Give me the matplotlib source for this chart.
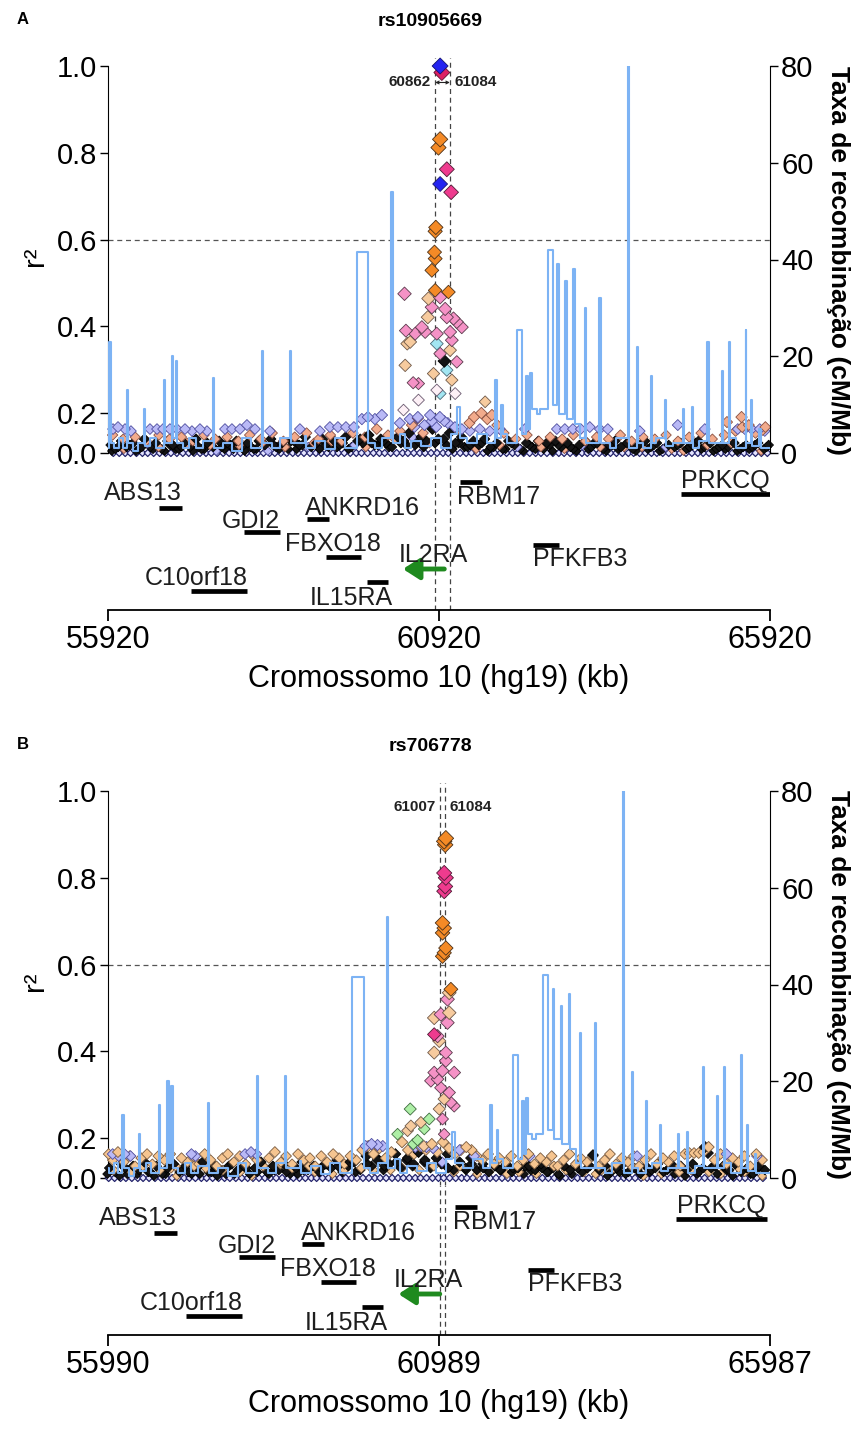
import numpy as np
import matplotlib
matplotlib.use('Agg')
import matplotlib.pyplot as plt
from matplotlib import font_manager

plt.rcParams['font.family'] = ['Liberation Sans', 'DejaVu Sans']
_names = {f.name for f in font_manager.fontManager.ttflist}
NARROW = 'Liberation Sans Narrow' if 'Liberation Sans Narrow' in _names else 'Liberation Sans'

# ---------------- data ----------------
# SNPs with r2 = 0 (same region in both panels)
zero_kb = [56000, 56090, 56180, 56260, 56350, 56440, 56520, 56610, 56700, 56790, 56870, 56960,
           57050, 57140, 57220, 57310, 57400, 57480, 57570, 57660, 57750, 57830, 57920, 58010,
           58100, 58180, 58270, 58360, 58440, 58530, 58620, 58710, 58790, 58880, 58970, 59060,
           59140, 59230, 59320, 59400, 59490, 59580, 59670, 59750, 59840, 59930, 60020, 60100,
           60190, 60280, 60370, 60450, 60540, 60630, 60710, 60800, 60890, 60980, 61060, 61150,
           61240, 61330, 61410, 61500, 61590, 61680, 61760, 61850, 61940, 62030, 62110, 62200,
           62290, 62380, 62460, 62550, 62640, 62730, 62810, 62900, 62990, 63080, 63160, 63250,
           63340, 63430, 63510, 63600, 63690, 63780, 63860, 63950, 64040, 64130, 64210, 64300,
           64390, 64480, 64560, 64650, 64740, 64830, 64910, 65000, 65090, 65180, 65260, 65350,
           65440, 65530, 65610, 65700, 65790, 65880]

# low-LD SNPs shared by both panels (positions), r2 differs per lead SNP
low_kb = [55980, 56075, 56160, 56250, 56345, 56430, 56515, 56600, 56685, 56775, 56860, 56945,
          57030, 57115, 57205, 57290, 57375, 57465, 57555, 57640, 57725, 57815, 57900, 57985,
          58075, 58160, 58245, 58335, 58420, 58505, 58595, 58685, 58770, 58855, 58945, 59030,
          59115, 59205, 59295, 59380, 59465, 59555, 59645, 59730, 59815, 59905, 59995, 60080,
          60165, 60255, 60345, 60430, 60515, 60605, 60690, 60775, 60910, 61035, 61125, 61215,
          61305, 61395, 61480, 61565, 61655, 61745, 61835, 61925, 62015, 62105, 62195, 62285,
          62375, 62460, 62545, 62635, 62725, 62815, 62905, 62995, 63085, 63175, 63265, 63355,
          63445, 63535, 63625, 63715, 63805, 63895, 63985, 64075, 64165, 64255, 64345, 64435,
          64525, 64615, 64705, 64795, 64885, 64975, 65065, 65155, 65245, 65335, 65425, 65515,
          65605, 65695, 65785, 65870]

# recombination rate (cM/Mb), step positions in kb
recomb_kb = [55920, 55930, 55960, 56010, 56080, 56140, 56200, 56225, 56300, 56380, 56460, 56480,
             56560, 56640, 56760, 56780, 56880, 56905, 56940, 56965, 57050, 57150, 57250, 57350,
             57500, 57520, 57650, 57800, 57950, 58080, 58240, 58260, 58400, 58520, 58665, 58685,
             58890, 58910, 59050, 59200, 59350, 59500, 59680, 59850, 59950, 60060, 60200, 60225,
             60330, 60400, 60500, 60650, 60800, 60950, 61100, 61190, 61230, 61350, 61500, 61650,
             61760, 61790, 61860, 61880, 61950, 62100, 62180, 62240, 62270, 62300, 62330, 62400,
             62450, 62560, 62640, 62710, 62730, 62830, 62850, 62950, 62970, 63050, 63120, 63140,
             63340, 63360, 63500, 63600, 63770, 63785, 63905, 63920, 64000, 64115, 64135, 64200,
             64330, 64345, 64450, 64600, 64615, 64735, 64750, 64850, 64975, 64995, 65190, 65205,
             65295, 65310, 65400, 65550, 65565, 65640, 65655, 65760, 65780, 65990]
recomb_rate = [1.0, 23, 2, 1, 3, 1, 13, 2, 0.5, 2, 9, 1.5,
               3, 1, 15, 2, 20, 3, 19, 2, 1, 3, 1, 2.5,
               15.5, 1, 2, 0.5, 3, 1, 21, 2, 1, 3, 21, 2,
               3.5, 1, 2.5, 0.8, 3, 1, 41.5, 2, 1, 3, 54, 2,
               4, 1, 2.5, 1.5, 3, 1, 4, 9.5, 3, 2, 4, 2,
               15, 3, 10, 4, 2, 25.5, 4, 16, 5, 16.5, 9, 8,
               9, 42, 10, 39, 8, 35.5, 7, 38, 6, 3, 30, 2,
               32, 2, 1, 3, 80, 1, 22, 2, 1, 16, 2, 3,
               11, 1.5, 2, 9, 2, 9.5, 1, 2.5, 23, 2, 17, 2,
               23, 3, 1, 25.5, 2, 11, 1.5, 5, 1, 1]

# genes
gene_names = ['ABS13', 'GDI2', 'ANKRD16', 'FBXO18', 'IL2RA', 'C10orf18', 'IL15RA', 'RBM17', 'PFKFB3', 'PRKCQ']
gene_start = [56690, 57974, 58925, 59212, 60375, 57173, 59831, 61235, 62338, 64572]
gene_end = [57037, 58517, 59257, 59740, 61000, 58019, 60148, 61567, 62730, 65946]
gene_track = [102, 78, 91, 53, 41, 19, 28, 128, 65, 116]
label_kb = [56448, 58079, 59771, 59318, 60828, 57249, 59589, 61824, 63047, 65252]
label_track = [117, 89, 102, 66, 55, 32, 12, 113, 51, 129]

# panel A : rs10905669
a_peak_kb = [60937, 60963, 60937, 60912, 61038, 60937, 61103, 60872, 60862, 60852, 60862, 60812,
             60399, 60862, 61063, 60937, 60761, 60812, 61013, 60751, 61038, 61139, 60661, 60560,
             60711, 61264, 61189, 60485, 60887, 61088, 61114, 60887, 60937, 61088, 60409, 61189,
             61038, 60837, 60610, 61114, 60887, 60937, 60384, 61617, 60610, 61164, 60420, 60440,
             60530, 60600, 61000]
a_peak_r2 = [1.0, 0.985, 0.831, 0.812, 0.762, 0.728, 0.709, 0.628, 0.619, 0.571, 0.556, 0.529,
             0.475, 0.483, 0.479, 0.467, 0.464, 0.444, 0.44, 0.421, 0.421, 0.418, 0.398, 0.383,
             0.387, 0.398, 0.41, 0.364, 0.383, 0.387, 0.368, 0.36, 0.337, 0.345, 0.31, 0.318,
             0.299, 0.291, 0.268, 0.276, 0.253, 0.245, 0.207, 0.226, 0.23, 0.245, 0.39, 0.36,
             0.27, 0.175, 0.32]
a_peak_cls = ['b', 'r', 'o', 'o', 'm', 'b', 'm', 'o', 'o', 'o', 'o', 'o',
              'p', 'o', 'o', 'p', 'c', 'p', 'p', 'c', 'p', 'p', 'p', 'p',
              'p', 'p', 'p', 'c', 'p', 'p', 'p', 'y', 'p', 'c', 'c', 'p',
              'y', 'c', 'p', 'c', 'w', 'y', 'w', 'c', 'w', 'w', 'p', 'c',
              'p', 'p', 'k']
a_black_kb = [55960, 56030, 56120, 56200, 56300, 56390, 56470, 56560, 56640, 56730, 56820, 56900,
              56990, 57070, 57160, 57250, 57330, 57420, 57510, 57600, 57680, 57770, 57860, 57940,
              58030, 58120, 58200, 58290, 58380, 58460, 58550, 58640, 58730, 58810, 58900, 58990,
              59070, 59160, 59250, 59340, 59420, 59510, 59600, 59690, 59770, 59860, 59950, 60040,
              60120, 60210, 60300, 60390, 60470, 60560, 60650, 60730, 60820, 60860, 60990, 61080,
              61170, 61260, 61350, 61440, 61520, 61610, 61700, 61790, 61880, 61970, 62060, 62150,
              62240, 62330, 62420, 62500, 62590, 62680, 62770, 62860, 62950, 63040, 63130, 63220,
              63310, 63400, 63490, 63580, 63670, 63760, 63850, 63940, 64030, 64120, 64210, 64300,
              64390, 64480, 64570, 64660, 64750, 64840, 64930, 65020, 65110, 65200, 65290, 65380,
              65470, 65560, 65650, 65740, 65830, 65900]
a_black_r2 = [.04, .02, .06, .03, .05, .02, .07, .03, .05, .02, .06, .04,
              .02, .05, .03, .07, .02, .05, .03, .06, .02, .04, .06, .03,
              .05, .02, .06, .04, .07, .03, .05, .02, .06, .04, .08, .03,
              .05, .07, .03, .06, .04, .08, .03, .06, .05, .09, .04, .07,
              .05, .03, .08, .06, .10, .04, .08, .06, .12, .05, .07, .10,
              .05, .08, .03, .06, .04, .07, .03, .05, .02, .06, .04, .02,
              .05, .03, .06, .02, .04, .06, .03, .05, .02, .04, .06, .03,
              .05, .02, .04, .06, .03, .05, .02, .04, .06, .03, .05, .02,
              .04, .03, .05, .02, .04, .06, .03, .05, .02, .04, .03, .05,
              .02, .04, .03, .05, .02, .04]
a_salmon_kb = [55990, 56150, 56330, 56500, 56690, 56850, 57030, 57200, 57370, 57540, 57720, 57890,
               58060, 58230, 58400, 58570, 58740, 58920, 59100, 59280, 59450, 59620, 59800, 59980,
               60150, 60330, 60510, 60680, 61200, 61380, 61450, 61560, 61650, 61720, 61800, 61900,
               62080, 62250, 62430, 62600, 62780, 62950, 63130, 63300, 63480, 63660, 63830, 64000,
               64180, 64350, 64530, 64700, 64880, 65050, 65230, 65270, 65400, 65490, 65500, 65600,
               65700, 65810, 65850]
a_salmon_r2 = [.09, .07, .08, .06, .09, .07, .08, .06, .09, .07, .08, .06,
               .09, .07, .10, .06, .08, .10, .07, .09, .06, .10, .08, .12,
               .09, .11, .14, .10, .12, .15, .18, .20, .17, .19, .14, .10,
               .07, .09, .06, .08, .07, .09, .06, .08, .07, .09, .06, .08,
               .07, .09, .06, .08, .10, .07, .09, .155, .11, .18, .13, .14,
               .10, .115, .13]
a_lav_kb = [55996, 56071, 56177, 56267, 56554, 56660, 56751, 56856, 56962, 57083, 57188, 57309,
            57415, 57687, 57792, 57913, 58019, 58140, 58366, 58819, 59121, 59272, 59393, 59514,
            59635, 59755, 59846, 59952, 60057, 60329, 60480, 60601, 60787, 60812, 60933, 61054,
            61160, 61265, 61386, 61537, 61688, 61839, 62217, 62700, 62821, 62942, 63062, 63198,
            63349, 63470, 63953, 64527, 64935, 65433, 65539, 65644, 65765, 65841, 60700, 60880,
            61000, 60550]
a_lav_r2 = [.12, .13, .12, .11, .12, .12, .12, .12, .12, .12, .11, .12,
            .11, .12, .12, .12, .14, .12, .11, .12, .11, .13, .13, .13,
            .13, .17, .18, .17, .19, .15, .17, .18, .19, .16, .18, .15,
            .13, .12, .11, .12, .11, .12, .12, .12, .12, .12, .12, .13,
            .12, .12, .11, .14, .12, .12, .12, .12, .12, .11, .14, .13,
            .16, .13]
a_low_r2 = [.01, .03, .02, .04, .01, .03, .05, .02, .03, .01, .04, .02,
            .03, .05, .01, .03, .02, .04, .01, .03, .05, .02, .04, .01,
            .03, .02, .05, .01, .04, .02, .03, .06, .02, .04, .03, .05,
            .02, .04, .06, .03, .05, .02, .04, .07, .03, .05, .04, .06,
            .03, .07, .05, .04, .08, .06, .03, .05, .07, .04, .02, .05,
            .03, .04, .02, .05, .01, .03, .04, .02, .05, .03, .01, .04,
            .02, .03, .05, .01, .04, .02, .03, .01, .04, .02, .05, .03,
            .01, .04, .02, .03, .05, .01, .03, .02, .04, .01, .03, .02,
            .04, .01, .03, .05, .02, .04, .01, .03, .02, .05, .01, .03,
            .02, .04, .01, .03]
a_low_cls = ('kkskkklkskkk' 'kskkkslkkksk' 'kkslkkskkkls' 'kkskkklkskkk' 'kskklkkskkkk'
             'kkskkkskklkk' 'kskkkskklkks' 'kkkskkskkkls' 'kskkkskkkskk' 'kksk')

# panel B : rs706778
b_peak_kb = [61092, 61067, 61082, 61067, 61092, 61082, 61067, 61042, 61067, 61042, 61092, 61067,
             61042, 61168, 61143, 61117, 61017, 60916, 61143, 61117, 60916, 60967, 60992, 60916,
             61092, 61092, 60916, 61218, 61042, 60967, 60866, 61017, 61143, 61168, 61067, 61218,
             60554, 60992, 61042, 60841, 60715, 60766, 60363, 61067, 60564, 60514, 60665, 60600,
             60760]
b_peak_r2 = [.891, .884, .876, .811, .800, .780, .769, .696, .684, .673, .638, .627,
             .619, .543, .535, .520, .485, .477, .489, .466, .439, .435, .424, .397,
             .397, .378, .351, .351, .355, .336, .332, .316, .305, .282, .290, .274,
             .267, .267, .244, .244, .236, .221, .209, .209, .228, .217, .19, .17,
             .16]
b_peak_cls = ['o', 'o', 'o', 'm', 'm', 'm', 'm', 'o', 'o', 'o', 'o', 'o',
              'o', 'o', 'c', 'p', 'p', 'c', 'c', 'p', 'm', 'p', 'c', 'c',
              'p', 'p', 'p', 'p', 'p', 'p', 'p', 'p', 'p', 'p', 'c', 'p',
              'g', 'c', 'p', 'g', 'c', 'g', 'g', 'p', 'c', 'c', 'g', 'g',
              'c']
b_black_kb = [56010, 56100, 56190, 56280, 56370, 56460, 56540, 56630, 56720, 56810, 56890, 56980,
              57070, 57160, 57250, 57330, 57420, 57510, 57600, 57690, 57770, 57860, 57950, 58040,
              58130, 58210, 58300, 58390, 58480, 58570, 58650, 58740, 58830, 58920, 59010, 59100,
              59180, 59270, 59360, 59450, 59530, 59620, 59710, 59800, 59890, 59970, 60060, 60150,
              60240, 60330, 60410, 60500, 60590, 60680, 60770, 60860, 60950, 61030, 61120, 61210,
              61300, 61390, 61470, 61560, 61650, 61740, 61830, 61910, 62000, 62090, 62180, 62270,
              62350, 62440, 62530, 62620, 62710, 62790, 62880, 62970, 63060, 63150, 63230, 63314,
              63410, 63500, 63590, 63670, 63760, 63850, 63940, 64030, 64110, 64200, 64290, 64380,
              64470, 64550, 64640, 64730, 64820, 64910, 65005, 65050, 65100, 65190, 65280, 65370,
              65460, 65550, 65640, 65730, 65820, 65910]
b_black_r2 = [.05, .03, .07, .02, .06, .04, .08, .03, .06, .02, .05, .07,
              .03, .06, .02, .05, .08, .03, .06, .04, .02, .07, .04, .06,
              .02, .05, .08, .03, .06, .04, .07, .02, .05, .08, .04, .06,
              .03, .07, .05, .09, .03, .06, .08, .04, .11, .06, .09, .04,
              .07, .12, .05, .09, .06, .13, .08, .05, .10, .07, .12, .04,
              .08, .05, .10, .04, .07, .03, .06, .04, .07, .03, .05, .02,
              .06, .04, .07, .03, .05, .02, .06, .04, .07, .03, .05, .115,
              .04, .06, .03, .05, .07, .03, .05, .02, .06, .04, .07, .03,
              .05, .02, .06, .04, .07, .03, .155, .125, .05, .02, .06, .04,
              .07, .03, .05, .02, .06, .04]
b_peach_kb = [56000, 56060, 56140, 56230, 56320, 56400, 56490, 56580, 56660, 56750, 56840, 56930,
              57010, 57100, 57190, 57280, 57360, 57450, 57540, 57630, 57720, 57800, 57890, 57980,
              58070, 58160, 58240, 58330, 58420, 58510, 58600, 58680, 58770, 58860, 58950, 59040,
              59120, 59210, 59300, 59390, 59480, 59560, 59650, 59740, 59830, 59920, 60000, 60090,
              60180, 60270, 60430, 60520, 60610, 60700, 60790, 60880, 60960, 61050, 61140, 61230,
              61320, 61400, 61480, 61560, 61640, 61730, 61820, 61900, 61990, 62080, 62170, 62260,
              62340, 62430, 62520, 62610, 62690, 62780, 62870, 62960, 63050, 63130, 63220, 63310,
              63400, 63490, 63570, 63660, 63750, 63840, 63930, 64010, 64100, 64190, 64280, 64370,
              64450, 64540, 64630, 64700, 64770, 64840, 64910, 64980, 65060, 65150, 65240, 65330,
              65420, 65510, 65600, 65690, 65780, 65870]
b_peach_r2 = [.12, .09, .13, .08, .11, .06, .10, .12, .07, .11, .09, .12,
              .06, .10, .08, .11, .07, .12, .09, .06, .10, .12, .08, .11,
              .07, .12, .09, .06, .10, .13, .08, .11, .07, .12, .09, .10,
              .06, .11, .08, .12, .10, .07, .11, .09, .14, .16, .12, .15,
              .10, .13, .18, .14, .12, .16, .14, .17, .13, .18, .15, .12,
              .14, .155, .14, .11, .09, .12, .07, .10, .08, .11, .06, .09,
              .12, .07, .10, .08, .11, .06, .09, .12, .07, .10, .08, .11,
              .06, .09, .12, .07, .10, .08, .11, .06, .09, .12, .07, .10,
              .08, .11, .06, .12, .125, .125, .125, .13, .155, .09, .12, .07,
              .10, .08, .11, .06, .12, .09]
b_lav_kb = [56060, 56150, 56240, 56330, 57250, 57310, 58060, 58150, 58230, 59880, 59970, 60060,
            60140, 60630, 60720, 60800, 60900, 61300, 61520, 62360, 63980, 65330, 65790]
b_lav_r2 = [.12, .11, .12, .11, .12, .11, .12, .13, .12, .16, .17, .165,
            .16, .155, .16, .155, .15, .14, .11, .11, .11, .12, .11]
b_low_r2 = [.02, .04, .01, .05, .03, .02, .06, .03, .01, .04, .02, .05,
            .01, .04, .03, .06, .02, .05, .03, .01, .04, .06, .02, .03,
            .05, .01, .03, .06, .02, .04, .07, .03, .05, .02, .04, .06,
            .03, .05, .07, .02, .06, .04, .08, .03, .05, .07, .04, .09,
            .06, .04, .08, .05, .10, .07, .04, .09, .06, .08, .05, .03,
            .06, .04, .07, .02, .05, .03, .06, .04, .02, .05, .03, .06,
            .04, .02, .05, .03, .06, .01, .04, .02, .05, .03, .06, .02,
            .04, .01, .05, .03, .02, .06, .04, .01, .03, .05, .02, .04,
            .06, .03, .01, .04, .02, .05, .03, .06, .02, .04, .01, .05,
            .03, .02, .04, .01]
b_low_cls = ('khkkhkhkkhkh' 'hkkhkhkkhkkh' 'khkhkkhkhkkh' 'hkkhkhkkhkhk' 'khkhkkhkhlkh'
             'hkkhkhkkhkhk' 'khkkhkhkkhkh' 'hkhkkhkhkkhk' 'khkhkkhkhkkh' 'hkkh')

# colour classes: (face, edge)
COLORS = {
    'b': ('#2424f0', '#14146e'),
    'r': ('#dc1f63', '#5e1030'),
    'o': ('#f48a26', '#4a3018'),
    'm': ('#ee3b8e', '#4e1a34'),
    'p': ('#f592c6', '#5a3a4c'),
    'c': ('#f7cb9e', '#6e5848'),
    'y': ('#a2e6f2', '#4a6a78'),
    'g': ('#adefa6', '#3e6a3e'),
    'w': ('#fdf0f6', '#6a5a70'),
    'k': ('#141414', '#000000'),
    's': ('#f2ab8c', '#8a5040'),
    'l': ('#b9b9f6', '#4e4ea0'),
    'z': ('#e4e4ff', '#23236a'),
    'h': ('#f6c590', '#7a5a3e'),
}


def fwd(y):
    y = np.asarray(y, dtype=float)
    return np.where(y >= 0.2, y, 0.2 + (y - 0.2) * 0.46)


def inv(d):
    d = np.asarray(d, dtype=float)
    return np.where(d >= 0.2, d, 0.2 + (d - 0.2) / 0.46)


W, H = 858, 1430
fig = plt.figure(figsize=(W / 100, H / 100), dpi=100)


def fy(px):
    return 1 - px / H


def draw_panel(top, letter, title, xlo, xhi, xticks, dashes, groups):
    # main axes
    ax = fig.add_axes([108 / W, fy(top + 387), 662 / W, 387 / H])
    ax.set_yscale('function', functions=(fwd, inv))
    ax.set_xlim(xlo, xhi)
    ax.set_ylim(0, 1.0)
    for s in ['top', 'right', 'bottom']:
        ax.spines[s].set_visible(False)
    ax.spines['left'].set_bounds(0, 1)
    ax.set_xticks([])
    ax.set_yticks([0, 0.2, 0.4, 0.6, 0.8, 1.0])
    ax.set_yticklabels(['0.0', '0.2', '0.4', '0.6', '0.8', '1.0'])
    ax.yaxis.set_minor_locator(matplotlib.ticker.NullLocator())
    ax.tick_params(axis='y', labelsize=21, length=6, width=1, pad=2)

    kb, r2, cl = [], [], []
    for kbs, r2s, cls in groups:
        if isinstance(cls, str) and len(cls) == 1:
            cls = cls * len(kbs)
        for k, r, c in zip(kbs, r2s, cls):
            kb.append(k)
            r2.append(r)
            cl.append(c)
    kb = np.array(kb, float)
    r2 = np.array(r2, float)
    order = np.argsort(r2, kind='stable')
    kb, r2 = kb[order], r2[order]
    cl = [cl[i] for i in order]
    face = [COLORS[c][0] for c in cl]
    edge = [COLORS[c][1] for c in cl]
    width_px = 8 + 8 * np.sqrt(r2)
    width_px = np.where(np.array(cl) == 'z', 7.0, width_px)
    sizes = (width_px / 1.414 * 0.72) ** 2
    lws = np.where(np.array(cl) == 'z', 0.9, 0.6)
    ax.scatter(kb, r2, s=sizes, marker='D', c=face, edgecolors=edge,
               linewidths=lws, clip_on=False, zorder=3)

    ax.axhline(0.6, color='#555555', ls=(0, (4, 3)), lw=0.9, zorder=1)
    for d in dashes:
        ax.axvline(d, ymin=-0.02, ymax=1.02, color='#444444', ls=(0, (4, 3)),
                   lw=0.9, clip_on=False, zorder=2)
    ax.annotate(str(dashes[0]), xy=(dashes[0], 0.962), xytext=(-3, 0),
                textcoords='offset points', ha='right', va='center',
                fontsize=11, fontweight='bold', family=NARROW, color='#222222')
    ax.annotate(str(dashes[1]), xy=(dashes[1], 0.962), xytext=(3, 0),
                textcoords='offset points', ha='left', va='center',
                fontsize=11, fontweight='bold', family=NARROW, color='#222222')
    if dashes[1] - dashes[0] > 100:
        ax.annotate('', xy=(dashes[0], 0.962), xytext=(dashes[1], 0.962),
                    arrowprops=dict(arrowstyle='<->', lw=0.8, mutation_scale=5,
                                    shrinkA=0, shrinkB=0, color='#222222'))

    # recombination rate
    ax2 = ax.twinx()
    ax2.set_ylim(0, 80)
    ax2.set_xlim(xlo, xhi)
    for s in ['top', 'left', 'bottom']:
        ax2.spines[s].set_visible(False)
    ax2.spines['right'].set_bounds(0, 80)
    ax2.set_yticks([0, 20, 40, 60, 80])
    ax2.tick_params(axis='y', labelsize=21, length=6, width=1, pad=2)
    ax2.plot(recomb_kb, recomb_rate, drawstyle='steps-post', color='#7db3f4', lw=1.5, zorder=4)

    # labels
    fig.text(17 / W, fy(top - 46), letter, fontsize=12, fontweight='bold', ha='left', va='center')
    fig.text(430 / W, fy(top - 45), title, fontsize=14, fontweight='bold', family=NARROW,
             ha='center', va='center')
    fig.text(35 / W, fy(top + 190), 'r²', fontsize=21, rotation=90, ha='center', va='center')
    fig.text(838 / W, fy(top + 194), 'Taxa de recombinação (cM/Mb)', fontsize=19,
             fontweight='bold', rotation=-90, ha='center', va='center')

    # gene track
    gax = fig.add_axes([108 / W, fy(top + 544), 662 / W, 150 / H])
    gax.set_xlim(xlo, xhi)
    gax.set_ylim(0, 150)
    for s in ['top', 'right', 'left']:
        gax.spines[s].set_visible(False)
    gax.spines['bottom'].set_linewidth(1.3)
    gax.set_yticks([])
    gax.set_xticks(xticks)
    gax.set_xticklabels([str(t) for t in xticks])
    gax.tick_params(axis='x', labelsize=22, length=8, width=1.3, pad=3)
    gax.set_xlabel('Cromossomo 10 (hg19) (kb)', fontsize=22, labelpad=6)
    for d in dashes:
        gax.axvline(d, color='#444444', ls=(0, (4, 3)), lw=0.9, zorder=1)
    for name, g0, g1, gy, lx, ly in zip(gene_names, gene_start, gene_end, gene_track,
                                        label_kb, label_track):
        if name == 'IL2RA':
            gax.annotate('', xy=(g0, gy), xytext=(g1, gy),
                         arrowprops=dict(arrowstyle='-|>,head_length=0.7,head_width=0.45',
                                         color='#1f8a1f', lw=3.5, mutation_scale=14,
                                         shrinkA=0, shrinkB=0))
        else:
            gax.plot([g0, g1], [gy, gy], color='black', lw=3.4, solid_capstyle='butt')
        gax.text(lx, ly, name, fontsize=18, color='#1e1e1e', ha='center', va='center')


draw_panel(66, 'A', 'rs10905669', 55920, 65920, [55920, 60920, 65920], [60862, 61084],
           [(zero_kb, [0.0] * len(zero_kb), 'z'),
            (low_kb, a_low_r2, a_low_cls),
            (a_black_kb, a_black_r2, 'k'),
            (a_salmon_kb, a_salmon_r2, 's'),
            (a_lav_kb, a_lav_r2, 'l'),
            (a_peak_kb, a_peak_r2, a_peak_cls)])

draw_panel(791, 'B', 'rs706778', 55990, 65987, [55990, 60989, 65987], [61007, 61084],
           [(zero_kb, [0.0] * len(zero_kb), 'z'),
            (low_kb, b_low_r2, b_low_cls),
            (b_black_kb, b_black_r2, 'k'),
            (b_peach_kb, b_peach_r2, 'h'),
            (b_lav_kb, b_lav_r2, 'l'),
            (b_peak_kb, b_peak_r2, b_peak_cls)])

fig.savefig('out.png', dpi=100)
